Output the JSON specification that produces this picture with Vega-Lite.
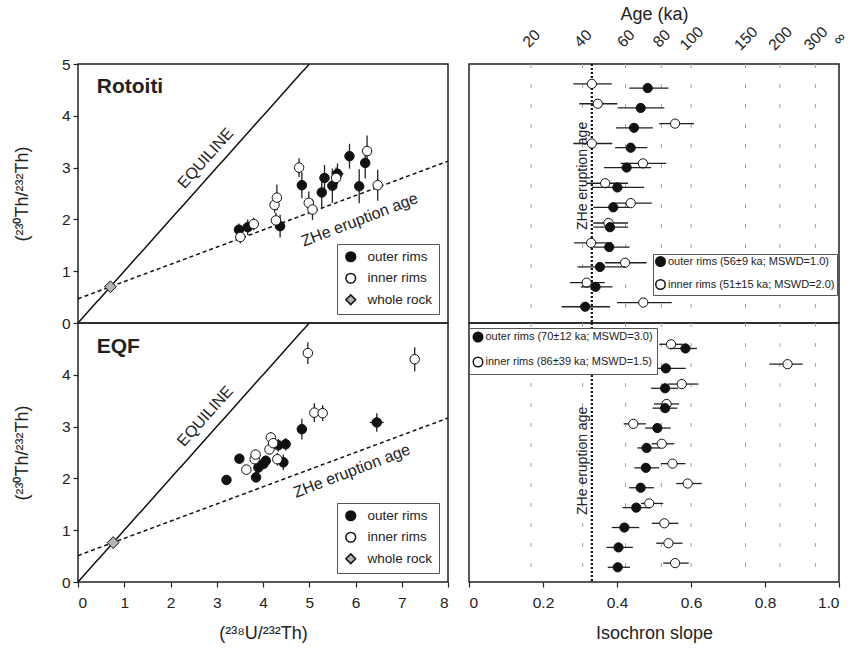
{
  "$schema": "https://vega.github.io/schema/vega-lite/v6.json",
  "background": "white",
  "padding": {"left": 12, "top": 5, "right": 0, "bottom": 0},
  "columns": 2,
  "spacing": {"row": 0, "column": 21},
  "bounds": "flush",
  "config": {
    "font": "Liberation Sans",
    "view": {"stroke": "#222", "strokeWidth": 1.5},
    "axis": {"labelFont": "Liberation Sans", "labelFontSize": 15.5, "labelColor": "#222", "titleFont": "Liberation Sans", "titleFontSize": 18, "titleFontWeight": "normal", "titleColor": "#222", "domain": false, "grid": false, "tickColor": "#222", "tickSize": 5, "tickWidth": 1.2, "labelPadding": 3, "labelOverlap": false},
    "legend": {"labelFont": "Liberation Sans", "labelColor": "#222", "labelLimit": 400},
    "text": {"font": "Liberation Sans", "color": "#222"}
  },
  "resolve": {
    "scale": {"fill": "independent", "shape": "independent", "strokeDash": "independent"},
    "legend": {"fill": "independent", "shape": "independent"}
  },
  "datasets": {
    "rotLines": [
      {"line": "equiline", "x": 0, "y": 0, "x2": 5, "y2": 5},
      {"line": "zhe", "x": 0, "y": 0.468, "x2": 8, "y2": 3.124}
    ],
    "eqfLines": [
      {"line": "equiline", "x": 0, "y": 0, "x2": 5, "y2": 5},
      {"line": "zhe", "x": 0, "y": 0.51, "x2": 8, "y2": 3.166}
    ],
    "rot": [
      {"series": "outer rims", "x": 3.48, "y": 1.80, "xlo": 3.40, "xhi": 3.56, "ylo": 1.68, "yhi": 1.92},
      {"series": "outer rims", "x": 3.67, "y": 1.85, "xlo": 3.59, "xhi": 3.75, "ylo": 1.70, "yhi": 2.00},
      {"series": "outer rims", "x": 4.37, "y": 1.87, "xlo": 4.31, "xhi": 4.43, "ylo": 1.65, "yhi": 2.09},
      {"series": "outer rims", "x": 4.84, "y": 2.66, "xlo": 4.76, "xhi": 4.92, "ylo": 2.41, "yhi": 2.91},
      {"series": "outer rims", "x": 5.27, "y": 2.52, "xlo": 5.17, "xhi": 5.37, "ylo": 2.22, "yhi": 2.82},
      {"series": "outer rims", "x": 5.33, "y": 2.80, "xlo": 5.23, "xhi": 5.43, "ylo": 2.55, "yhi": 3.05},
      {"series": "outer rims", "x": 5.50, "y": 2.65, "xlo": 5.40, "xhi": 5.60, "ylo": 2.32, "yhi": 2.98},
      {"series": "outer rims", "x": 5.61, "y": 2.88, "xlo": 5.48, "xhi": 5.74, "ylo": 2.68, "yhi": 3.08},
      {"series": "outer rims", "x": 5.87, "y": 3.22, "xlo": 5.79, "xhi": 5.95, "ylo": 2.98, "yhi": 3.46},
      {"series": "outer rims", "x": 6.08, "y": 2.64, "xlo": 6.00, "xhi": 6.16, "ylo": 2.31, "yhi": 2.97},
      {"series": "outer rims", "x": 6.21, "y": 3.09, "xlo": 6.11, "xhi": 6.31, "ylo": 2.79, "yhi": 3.39},
      {"series": "inner rims", "x": 3.51, "y": 1.66, "xlo": 3.41, "xhi": 3.61, "ylo": 1.54, "yhi": 1.78},
      {"series": "inner rims", "x": 3.80, "y": 1.91, "xlo": 3.70, "xhi": 3.90, "ylo": 1.79, "yhi": 2.03},
      {"series": "inner rims", "x": 4.25, "y": 2.28, "xlo": 4.19, "xhi": 4.31, "ylo": 2.13, "yhi": 2.43},
      {"series": "inner rims", "x": 4.30, "y": 2.42, "xlo": 4.24, "xhi": 4.36, "ylo": 2.17, "yhi": 2.67},
      {"series": "inner rims", "x": 4.28, "y": 1.98, "xlo": 4.22, "xhi": 4.34, "ylo": 1.83, "yhi": 2.13},
      {"series": "inner rims", "x": 4.78, "y": 3.00, "xlo": 4.72, "xhi": 4.84, "ylo": 2.82, "yhi": 3.18},
      {"series": "inner rims", "x": 4.99, "y": 2.32, "xlo": 4.93, "xhi": 5.05, "ylo": 2.10, "yhi": 2.54},
      {"series": "inner rims", "x": 5.07, "y": 2.19, "xlo": 4.99, "xhi": 5.15, "ylo": 1.99, "yhi": 2.39},
      {"series": "inner rims", "x": 5.58, "y": 2.80, "xlo": 5.48, "xhi": 5.68, "ylo": 2.60, "yhi": 3.00},
      {"series": "inner rims", "x": 6.25, "y": 3.32, "xlo": 6.15, "xhi": 6.35, "ylo": 3.02, "yhi": 3.62},
      {"series": "inner rims", "x": 6.48, "y": 2.66, "xlo": 6.42, "xhi": 6.54, "ylo": 2.36, "yhi": 2.96},
      {"series": "whole rock", "x": 0.70, "y": 0.70, "xlo": 0.70, "xhi": 0.70, "ylo": 0.70, "yhi": 0.70}
    ],
    "eqf": [
      {"series": "outer rims", "x": 3.21, "y": 1.97, "xlo": 3.16, "xhi": 3.26, "ylo": 1.89, "yhi": 2.05},
      {"series": "outer rims", "x": 3.49, "y": 2.38, "xlo": 3.44, "xhi": 3.54, "ylo": 2.30, "yhi": 2.46},
      {"series": "outer rims", "x": 3.85, "y": 2.02, "xlo": 3.80, "xhi": 3.90, "ylo": 1.92, "yhi": 2.12},
      {"series": "outer rims", "x": 3.90, "y": 2.21, "xlo": 3.85, "xhi": 3.95, "ylo": 2.11, "yhi": 2.31},
      {"series": "outer rims", "x": 4.01, "y": 2.28, "xlo": 3.96, "xhi": 4.06, "ylo": 2.18, "yhi": 2.38},
      {"series": "outer rims", "x": 4.06, "y": 2.34, "xlo": 4.00, "xhi": 4.12, "ylo": 2.24, "yhi": 2.44},
      {"series": "outer rims", "x": 4.33, "y": 2.64, "xlo": 4.25, "xhi": 4.41, "ylo": 2.52, "yhi": 2.76},
      {"series": "outer rims", "x": 4.44, "y": 2.31, "xlo": 4.39, "xhi": 4.49, "ylo": 2.16, "yhi": 2.46},
      {"series": "outer rims", "x": 4.49, "y": 2.66, "xlo": 4.41, "xhi": 4.57, "ylo": 2.54, "yhi": 2.78},
      {"series": "outer rims", "x": 4.84, "y": 2.95, "xlo": 4.74, "xhi": 4.94, "ylo": 2.75, "yhi": 3.15},
      {"series": "outer rims", "x": 6.46, "y": 3.08, "xlo": 6.31, "xhi": 6.61, "ylo": 2.90, "yhi": 3.26},
      {"series": "inner rims", "x": 3.64, "y": 2.17, "xlo": 3.59, "xhi": 3.69, "ylo": 2.09, "yhi": 2.25},
      {"series": "inner rims", "x": 3.82, "y": 2.37, "xlo": 3.77, "xhi": 3.87, "ylo": 2.29, "yhi": 2.45},
      {"series": "inner rims", "x": 3.84, "y": 2.46, "xlo": 3.79, "xhi": 3.89, "ylo": 2.36, "yhi": 2.56},
      {"series": "inner rims", "x": 4.14, "y": 2.56, "xlo": 4.09, "xhi": 4.19, "ylo": 2.46, "yhi": 2.66},
      {"series": "inner rims", "x": 4.17, "y": 2.79, "xlo": 4.12, "xhi": 4.22, "ylo": 2.69, "yhi": 2.89},
      {"series": "inner rims", "x": 4.22, "y": 2.68, "xlo": 4.17, "xhi": 4.27, "ylo": 2.58, "yhi": 2.78},
      {"series": "inner rims", "x": 4.31, "y": 2.37, "xlo": 4.26, "xhi": 4.36, "ylo": 2.25, "yhi": 2.49},
      {"series": "inner rims", "x": 4.97, "y": 4.42, "xlo": 4.93, "xhi": 5.01, "ylo": 4.21, "yhi": 4.63},
      {"series": "inner rims", "x": 5.11, "y": 3.27, "xlo": 5.06, "xhi": 5.16, "ylo": 3.09, "yhi": 3.45},
      {"series": "inner rims", "x": 5.29, "y": 3.26, "xlo": 5.24, "xhi": 5.34, "ylo": 3.11, "yhi": 3.41},
      {"series": "inner rims", "x": 7.28, "y": 4.30, "xlo": 7.24, "xhi": 7.32, "ylo": 4.07, "yhi": 4.53},
      {"series": "whole rock", "x": 0.76, "y": 0.76, "xlo": 0.76, "xhi": 0.76, "ylo": 0.76, "yhi": 0.76}
    ],
    "rotNotes": [
      {"kind": "site", "text": "Rotoiti", "x": 0.405, "y": 4.44},
      {"kind": "equi", "text": "EQUILINE", "x": 2.76, "y": 3.18},
      {"kind": "zhe", "text": "ZHe eruption age", "x": 6.09, "y": 1.99}
    ],
    "eqfNotes": [
      {"kind": "site", "text": "EQF", "x": 0.405, "y": 4.42},
      {"kind": "equi", "text": "EQUILINE", "x": 2.75, "y": 3.20},
      {"kind": "zhe", "text": "ZHe eruption age", "x": 5.92, "y": 2.14}
    ],
    "ages": [
      {"age": 20, "s": 0.16757},
      {"age": 40, "s": 0.30705},
      {"age": 60, "s": 0.42318},
      {"age": 80, "s": 0.51984},
      {"age": 100, "s": 0.60030},
      {"age": 150, "s": 0.74730},
      {"age": 200, "s": 0.84024},
      {"age": 300, "s": 0.93615}
    ],
    "zheSlope": [{"s": 0.332}],
    "trNote": [{"text": "ZHe eruption age", "s": 0.307, "grain": 5.63}],
    "brNote": [{"text": "ZHe eruption age", "s": 0.307, "grain": 6.86}],
    "tr": [
      {"grain": 1, "rim": "inner", "label": "inner rims (51±15 ka; MSWD=2.0)", "s": 0.332, "lo": 0.282, "hi": 0.386},
      {"grain": 1, "rim": "outer", "label": "outer rims (56±9 ka; MSWD=1.0)", "s": 0.483, "lo": 0.433, "hi": 0.539},
      {"grain": 2, "rim": "inner", "label": "inner rims (51±15 ka; MSWD=2.0)", "s": 0.348, "lo": 0.298, "hi": 0.401},
      {"grain": 2, "rim": "outer", "label": "outer rims (56±9 ka; MSWD=1.0)", "s": 0.464, "lo": 0.402, "hi": 0.528},
      {"grain": 3, "rim": "inner", "label": "inner rims (51±15 ka; MSWD=2.0)", "s": 0.557, "lo": 0.514, "hi": 0.608},
      {"grain": 3, "rim": "outer", "label": "outer rims (56±9 ka; MSWD=1.0)", "s": 0.446, "lo": 0.397, "hi": 0.497},
      {"grain": 4, "rim": "inner", "label": "inner rims (51±15 ka; MSWD=2.0)", "s": 0.332, "lo": 0.282, "hi": 0.387},
      {"grain": 4, "rim": "outer", "label": "outer rims (56±9 ka; MSWD=1.0)", "s": 0.437, "lo": 0.395, "hi": 0.482},
      {"grain": 5, "rim": "inner", "label": "inner rims (51±15 ka; MSWD=2.0)", "s": 0.470, "lo": 0.410, "hi": 0.533},
      {"grain": 5, "rim": "outer", "label": "outer rims (56±9 ka; MSWD=1.0)", "s": 0.426, "lo": 0.365, "hi": 0.492},
      {"grain": 6, "rim": "inner", "label": "inner rims (51±15 ka; MSWD=2.0)", "s": 0.368, "lo": 0.318, "hi": 0.430},
      {"grain": 6, "rim": "outer", "label": "outer rims (56±9 ka; MSWD=1.0)", "s": 0.401, "lo": 0.332, "hi": 0.473},
      {"grain": 7, "rim": "inner", "label": "inner rims (51±15 ka; MSWD=2.0)", "s": 0.437, "lo": 0.386, "hi": 0.494},
      {"grain": 7, "rim": "outer", "label": "outer rims (56±9 ka; MSWD=1.0)", "s": 0.390, "lo": 0.336, "hi": 0.435},
      {"grain": 8, "rim": "inner", "label": "inner rims (51±15 ka; MSWD=2.0)", "s": 0.377, "lo": 0.336, "hi": 0.430},
      {"grain": 8, "rim": "outer", "label": "outer rims (56±9 ka; MSWD=1.0)", "s": 0.381, "lo": 0.336, "hi": 0.430},
      {"grain": 9, "rim": "inner", "label": "inner rims (51±15 ka; MSWD=2.0)", "s": 0.330, "lo": 0.284, "hi": 0.385},
      {"grain": 9, "rim": "outer", "label": "outer rims (56±9 ka; MSWD=1.0)", "s": 0.379, "lo": 0.336, "hi": 0.434},
      {"grain": 10, "rim": "inner", "label": "inner rims (51±15 ka; MSWD=2.0)", "s": 0.422, "lo": 0.368, "hi": 0.480},
      {"grain": 10, "rim": "outer", "label": "outer rims (56±9 ka; MSWD=1.0)", "s": 0.354, "lo": 0.293, "hi": 0.422},
      {"grain": 11, "rim": "inner", "label": "inner rims (51±15 ka; MSWD=2.0)", "s": 0.318, "lo": 0.273, "hi": 0.367},
      {"grain": 11, "rim": "outer", "label": "outer rims (56±9 ka; MSWD=1.0)", "s": 0.342, "lo": 0.302, "hi": 0.388},
      {"grain": 12, "rim": "inner", "label": "inner rims (51±15 ka; MSWD=2.0)", "s": 0.471, "lo": 0.400, "hi": 0.548},
      {"grain": 12, "rim": "outer", "label": "outer rims (56±9 ka; MSWD=1.0)", "s": 0.314, "lo": 0.250, "hi": 0.381}
    ],
    "br": [
      {"grain": 1, "rim": "inner", "label": "inner rims (86±39 ka; MSWD=1.5)", "s": 0.546, "lo": 0.514, "hi": 0.578},
      {"grain": 1, "rim": "outer", "label": "outer rims (70±12 ka; MSWD=3.0)", "s": 0.585, "lo": 0.543, "hi": 0.616},
      {"grain": 2, "rim": "inner", "label": "inner rims (86±39 ka; MSWD=1.5)", "s": 0.861, "lo": 0.812, "hi": 0.902},
      {"grain": 2, "rim": "outer", "label": "outer rims (70±12 ka; MSWD=3.0)", "s": 0.532, "lo": 0.480, "hi": 0.586},
      {"grain": 3, "rim": "inner", "label": "inner rims (86±39 ka; MSWD=1.5)", "s": 0.575, "lo": 0.538, "hi": 0.620},
      {"grain": 3, "rim": "outer", "label": "outer rims (70±12 ka; MSWD=3.0)", "s": 0.530, "lo": 0.492, "hi": 0.565},
      {"grain": 4, "rim": "inner", "label": "inner rims (86±39 ka; MSWD=1.5)", "s": 0.534, "lo": 0.500, "hi": 0.568},
      {"grain": 4, "rim": "outer", "label": "outer rims (70±12 ka; MSWD=3.0)", "s": 0.530, "lo": 0.496, "hi": 0.563},
      {"grain": 5, "rim": "inner", "label": "inner rims (86±39 ka; MSWD=1.5)", "s": 0.444, "lo": 0.418, "hi": 0.478},
      {"grain": 5, "rim": "outer", "label": "outer rims (70±12 ka; MSWD=3.0)", "s": 0.509, "lo": 0.476, "hi": 0.545},
      {"grain": 6, "rim": "inner", "label": "inner rims (86±39 ka; MSWD=1.5)", "s": 0.521, "lo": 0.494, "hi": 0.555},
      {"grain": 6, "rim": "outer", "label": "outer rims (70±12 ka; MSWD=3.0)", "s": 0.480, "lo": 0.455, "hi": 0.516},
      {"grain": 7, "rim": "inner", "label": "inner rims (86±39 ka; MSWD=1.5)", "s": 0.550, "lo": 0.519, "hi": 0.585},
      {"grain": 7, "rim": "outer", "label": "outer rims (70±12 ka; MSWD=3.0)", "s": 0.478, "lo": 0.447, "hi": 0.514},
      {"grain": 8, "rim": "inner", "label": "inner rims (86±39 ka; MSWD=1.5)", "s": 0.591, "lo": 0.560, "hi": 0.629},
      {"grain": 8, "rim": "outer", "label": "outer rims (70±12 ka; MSWD=3.0)", "s": 0.464, "lo": 0.433, "hi": 0.500},
      {"grain": 9, "rim": "inner", "label": "inner rims (86±39 ka; MSWD=1.5)", "s": 0.487, "lo": 0.465, "hi": 0.525},
      {"grain": 9, "rim": "outer", "label": "outer rims (70±12 ka; MSWD=3.0)", "s": 0.452, "lo": 0.415, "hi": 0.489},
      {"grain": 10, "rim": "inner", "label": "inner rims (86±39 ka; MSWD=1.5)", "s": 0.528, "lo": 0.494, "hi": 0.566},
      {"grain": 10, "rim": "outer", "label": "outer rims (70±12 ka; MSWD=3.0)", "s": 0.420, "lo": 0.386, "hi": 0.460},
      {"grain": 11, "rim": "inner", "label": "inner rims (86±39 ka; MSWD=1.5)", "s": 0.539, "lo": 0.506, "hi": 0.577},
      {"grain": 11, "rim": "outer", "label": "outer rims (70±12 ka; MSWD=3.0)", "s": 0.404, "lo": 0.372, "hi": 0.443},
      {"grain": 12, "rim": "inner", "label": "inner rims (86±39 ka; MSWD=1.5)", "s": 0.557, "lo": 0.525, "hi": 0.594},
      {"grain": 12, "rim": "outer", "label": "outer rims (70±12 ka; MSWD=3.0)", "s": 0.402, "lo": 0.375, "hi": 0.435}
    ]
  },
  "concat": [
    {
      "width": 370, "height": 259,
      "layer": [
        {"data": {"name": "rotLines"}, "mark": {"type": "rule", "color": "#111", "strokeWidth": 1.5},
         "encoding": {
           "x": {"field": "x", "type": "quantitative", "scale": {"domain": [0, 8], "nice": false}, "axis": null},
           "y": {"field": "y", "type": "quantitative", "scale": {"domain": [0, 5], "nice": false}, "axis": {"values": [0, 1, 2, 3, 4, 5], "title": "(²³⁰Th/²³²Th)", "titlePadding": 30}},
           "x2": {"field": "x2"}, "y2": {"field": "y2"},
           "strokeDash": {"field": "line", "type": "nominal", "scale": {"domain": ["equiline", "zhe"], "range": [[1, 0], [4, 3]]}, "legend": null}}},
        {"data": {"name": "rot"}, "mark": {"type": "rule", "color": "#222", "strokeWidth": 1.3},
         "encoding": {"x": {"field": "x", "type": "quantitative", "axis": null}, "y": {"field": "ylo", "type": "quantitative"}, "y2": {"field": "yhi"}}},
        {"data": {"name": "rot"}, "mark": {"type": "rule", "color": "#222", "strokeWidth": 1.3},
         "encoding": {"y": {"field": "y", "type": "quantitative"}, "x": {"field": "xlo", "type": "quantitative", "axis": null}, "x2": {"field": "xhi"}}},
        {"data": {"name": "rot"}, "transform": [{"filter": "datum.series != 'whole rock'"}], "mark": {"type": "point", "filled": true, "opacity": 1, "stroke": "#111", "strokeWidth": 1, "size": 90},
         "encoding": {
           "x": {"field": "x", "type": "quantitative", "axis": null},
           "y": {"field": "y", "type": "quantitative"},
           "fill": {"field": "series", "type": "nominal", "scale": {"domain": ["outer rims", "inner rims", "whole rock"], "range": ["#111", "white", "#b3b3b3"]},
                    "legend": {"title": null, "orient": "bottom-right", "offset": 9, "padding": 6, "strokeColor": "#555", "fillColor": "white", "labelFontSize": 13.5, "symbolSize": 95, "rowPadding": 4.5, "labelOffset": 10, "symbolOffset": 1, "encode": {"symbols": {"update": {"stroke": {"value": "#111"}, "strokeWidth": {"value": 1}}}}}},
           "shape": {"field": "series", "type": "nominal", "scale": {"domain": ["outer rims", "inner rims", "whole rock"], "range": ["circle", "circle", "diamond"]},
                    "legend": {"title": null, "orient": "bottom-right", "offset": 9, "padding": 6, "strokeColor": "#555", "fillColor": "white", "labelFontSize": 13.5, "symbolSize": 95, "rowPadding": 4.5, "labelOffset": 10, "symbolOffset": 1, "encode": {"symbols": {"update": {"stroke": {"value": "#111"}, "strokeWidth": {"value": 1}}}}}}}},
        {"data": {"name": "rot"}, "transform": [{"filter": "datum.series == 'whole rock'"}], "mark": {"type": "point", "filled": true, "opacity": 1, "stroke": "#111", "strokeWidth": 1, "size": 140},
         "encoding": {
           "x": {"field": "x", "type": "quantitative", "axis": null},
           "y": {"field": "y", "type": "quantitative"},
           "fill": {"field": "series", "type": "nominal", "scale": {"domain": ["outer rims", "inner rims", "whole rock"], "range": ["#111", "white", "#b3b3b3"]},
                    "legend": {"title": null, "orient": "bottom-right", "offset": 9, "padding": 6, "strokeColor": "#555", "fillColor": "white", "labelFontSize": 13.5, "symbolSize": 95, "rowPadding": 4.5, "labelOffset": 10, "symbolOffset": 1, "encode": {"symbols": {"update": {"stroke": {"value": "#111"}, "strokeWidth": {"value": 1}}}}}},
           "shape": {"field": "series", "type": "nominal", "scale": {"domain": ["outer rims", "inner rims", "whole rock"], "range": ["circle", "circle", "diamond"]},
                    "legend": {"title": null, "orient": "bottom-right", "offset": 9, "padding": 6, "strokeColor": "#555", "fillColor": "white", "labelFontSize": 13.5, "symbolSize": 95, "rowPadding": 4.5, "labelOffset": 10, "symbolOffset": 1, "encode": {"symbols": {"update": {"stroke": {"value": "#111"}, "strokeWidth": {"value": 1}}}}}}}},
        {"data": {"name": "rotNotes"}, "transform": [{"filter": "datum.kind == 'site'"}], "mark": {"type": "text", "fontSize": 21, "fontWeight": "bold", "align": "left", "baseline": "alphabetic"},
         "encoding": {"x": {"field": "x", "type": "quantitative", "axis": null}, "y": {"field": "y", "type": "quantitative"}, "text": {"field": "text"}}},
        {"data": {"name": "rotNotes"}, "transform": [{"filter": "datum.kind == 'equi'"}], "mark": {"type": "text", "fontSize": 16, "angle": 311.7, "align": "center", "baseline": "middle"},
         "encoding": {"x": {"field": "x", "type": "quantitative", "axis": null}, "y": {"field": "y", "type": "quantitative"}, "text": {"field": "text"}}},
        {"data": {"name": "rotNotes"}, "transform": [{"filter": "datum.kind == 'zhe'"}], "mark": {"type": "text", "fontSize": 16, "angle": 339, "align": "center", "baseline": "middle"},
         "encoding": {"x": {"field": "x", "type": "quantitative", "axis": null}, "y": {"field": "y", "type": "quantitative"}, "text": {"field": "text"}}}
      ]
    },
    {
      "width": 370, "height": 259,
      "layer": [
        {"data": {"name": "ages"}, "mark": {"type": "rule", "color": "#a0a0a0", "strokeWidth": 1, "strokeDash": [4, 16]},
         "encoding": {"x": {"field": "s", "type": "quantitative", "scale": {"domain": [0, 1], "nice": false},
           "axis": {"orient": "top", "values": [0.16757, 0.30705, 0.42318, 0.51984, 0.6003, 0.7473, 0.84024, 0.93615, 1.0],
                    "labelExpr": "datum.value >= 0.999 ? '∞' : format(round(-log(1 - datum.value) / 0.0091705), 'd')",
                    "labelAngle": -45, "labelAlign": "center", "labelBaseline": "middle", "labelOverlap": false, "ticks": false, "tickSize": 0, "labelPadding": 26, "title": "Age (ka)", "titlePadding": 0}}}},
        {"data": {"name": "zheSlope"}, "mark": {"type": "rule", "color": "#111", "strokeWidth": 2.2, "strokeDash": [2, 2]},
         "encoding": {"x": {"field": "s", "type": "quantitative"}}},
        {"data": {"name": "trNote"}, "mark": {"type": "text", "fontSize": 14, "angle": 270, "align": "center", "baseline": "middle"},
         "encoding": {"x": {"field": "s", "type": "quantitative"}, "y": {"field": "grain", "type": "quantitative", "scale": {"domain": [0, 13.03], "reverse": true, "nice": false, "zero": false}, "axis": null}, "text": {"field": "text"}}},
        {"data": {"name": "tr"}, "transform": [{"filter": "datum.rim == 'inner'"}], "mark": {"type": "rule", "color": "#222", "strokeWidth": 1.3},
         "encoding": {"x": {"field": "lo", "type": "quantitative"}, "x2": {"field": "hi"}, "y": {"field": "grain", "type": "quantitative", "axis": null}}},
        {"data": {"name": "tr"}, "transform": [{"filter": "datum.rim == 'inner'"}], "mark": {"type": "point", "shape": "circle", "filled": true, "opacity": 1, "stroke": "#111", "strokeWidth": 1, "size": 85},
         "encoding": {"x": {"field": "s", "type": "quantitative"}, "y": {"field": "grain", "type": "quantitative", "axis": null},
           "fill": {"field": "label", "type": "nominal", "scale": {"domain": ["outer rims (56±9 ka; MSWD=1.0)", "inner rims (51±15 ka; MSWD=2.0)"], "range": ["#111", "white"]},
                    "legend": {"title": null, "orient": "none", "legendX": 184, "legendY": 190, "symbolType": "circle", "padding": 2, "strokeColor": "#555", "fillColor": "white", "labelFontSize": 11, "symbolSize": 90, "rowPadding": 6, "labelOffset": 2, "encode": {"symbols": {"update": {"stroke": {"value": "#111"}, "strokeWidth": {"value": 1}}}}}}}},
        {"data": {"name": "tr"}, "transform": [{"filter": "datum.rim == 'outer'"}], "mark": {"type": "rule", "color": "#222", "strokeWidth": 1.3, "yOffset": 4.2},
         "encoding": {"x": {"field": "lo", "type": "quantitative"}, "x2": {"field": "hi"}, "y": {"field": "grain", "type": "quantitative", "axis": null}}},
        {"data": {"name": "tr"}, "transform": [{"filter": "datum.rim == 'outer'"}], "mark": {"type": "point", "shape": "circle", "filled": true, "opacity": 1, "stroke": "#111", "strokeWidth": 1, "size": 85, "yOffset": 4.2},
         "encoding": {"x": {"field": "s", "type": "quantitative"}, "y": {"field": "grain", "type": "quantitative", "axis": null},
           "fill": {"field": "label", "type": "nominal", "scale": {"domain": ["outer rims (56±9 ka; MSWD=1.0)", "inner rims (51±15 ka; MSWD=2.0)"], "range": ["#111", "white"]},
                    "legend": {"title": null, "orient": "none", "legendX": 184, "legendY": 190, "symbolType": "circle", "padding": 2, "strokeColor": "#555", "fillColor": "white", "labelFontSize": 11, "symbolSize": 90, "rowPadding": 6, "labelOffset": 2, "encode": {"symbols": {"update": {"stroke": {"value": "#111"}, "strokeWidth": {"value": 1}}}}}}}}
      ]
    },
    {
      "width": 370, "height": 259,
      "layer": [
        {"data": {"name": "eqfLines"}, "mark": {"type": "rule", "color": "#111", "strokeWidth": 1.5},
         "encoding": {
           "x": {"field": "x", "type": "quantitative", "scale": {"domain": [0, 8], "nice": false}, "axis": {"values": [0, 1, 2, 3, 4, 5, 6, 7, 8], "title": "(²³⁸U/²³²Th)", "labelPadding": 8, "titlePadding": 14}},
           "y": {"field": "y", "type": "quantitative", "scale": {"domain": [0, 5], "nice": false}, "axis": {"values": [0, 1, 2, 3, 4], "title": "(²³⁰Th/²³²Th)", "titlePadding": 30}},
           "x2": {"field": "x2"}, "y2": {"field": "y2"},
           "strokeDash": {"field": "line", "type": "nominal", "scale": {"domain": ["equiline", "zhe"], "range": [[1, 0], [4, 3]]}, "legend": null}}},
        {"data": {"name": "eqf"}, "mark": {"type": "rule", "color": "#222", "strokeWidth": 1.3},
         "encoding": {"x": {"field": "x", "type": "quantitative"}, "y": {"field": "ylo", "type": "quantitative"}, "y2": {"field": "yhi"}}},
        {"data": {"name": "eqf"}, "mark": {"type": "rule", "color": "#222", "strokeWidth": 1.3},
         "encoding": {"y": {"field": "y", "type": "quantitative"}, "x": {"field": "xlo", "type": "quantitative"}, "x2": {"field": "xhi"}}},
        {"data": {"name": "eqf"}, "transform": [{"filter": "datum.series != 'whole rock'"}], "mark": {"type": "point", "filled": true, "opacity": 1, "stroke": "#111", "strokeWidth": 1, "size": 90},
         "encoding": {
           "x": {"field": "x", "type": "quantitative"},
           "y": {"field": "y", "type": "quantitative"},
           "fill": {"field": "series", "type": "nominal", "scale": {"domain": ["outer rims", "inner rims", "whole rock"], "range": ["#111", "white", "#b3b3b3"]},
                    "legend": {"title": null, "orient": "bottom-right", "offset": 9, "padding": 6, "strokeColor": "#555", "fillColor": "white", "labelFontSize": 13.5, "symbolSize": 95, "rowPadding": 4.5, "labelOffset": 10, "symbolOffset": 1, "encode": {"symbols": {"update": {"stroke": {"value": "#111"}, "strokeWidth": {"value": 1}}}}}},
           "shape": {"field": "series", "type": "nominal", "scale": {"domain": ["outer rims", "inner rims", "whole rock"], "range": ["circle", "circle", "diamond"]},
                    "legend": {"title": null, "orient": "bottom-right", "offset": 9, "padding": 6, "strokeColor": "#555", "fillColor": "white", "labelFontSize": 13.5, "symbolSize": 95, "rowPadding": 4.5, "labelOffset": 10, "symbolOffset": 1, "encode": {"symbols": {"update": {"stroke": {"value": "#111"}, "strokeWidth": {"value": 1}}}}}}}},
        {"data": {"name": "eqf"}, "transform": [{"filter": "datum.series == 'whole rock'"}], "mark": {"type": "point", "filled": true, "opacity": 1, "stroke": "#111", "strokeWidth": 1, "size": 140},
         "encoding": {
           "x": {"field": "x", "type": "quantitative"},
           "y": {"field": "y", "type": "quantitative"},
           "fill": {"field": "series", "type": "nominal", "scale": {"domain": ["outer rims", "inner rims", "whole rock"], "range": ["#111", "white", "#b3b3b3"]},
                    "legend": {"title": null, "orient": "bottom-right", "offset": 9, "padding": 6, "strokeColor": "#555", "fillColor": "white", "labelFontSize": 13.5, "symbolSize": 95, "rowPadding": 4.5, "labelOffset": 10, "symbolOffset": 1, "encode": {"symbols": {"update": {"stroke": {"value": "#111"}, "strokeWidth": {"value": 1}}}}}},
           "shape": {"field": "series", "type": "nominal", "scale": {"domain": ["outer rims", "inner rims", "whole rock"], "range": ["circle", "circle", "diamond"]},
                    "legend": {"title": null, "orient": "bottom-right", "offset": 9, "padding": 6, "strokeColor": "#555", "fillColor": "white", "labelFontSize": 13.5, "symbolSize": 95, "rowPadding": 4.5, "labelOffset": 10, "symbolOffset": 1, "encode": {"symbols": {"update": {"stroke": {"value": "#111"}, "strokeWidth": {"value": 1}}}}}}}},
        {"data": {"name": "eqfNotes"}, "transform": [{"filter": "datum.kind == 'site'"}], "mark": {"type": "text", "fontSize": 21, "fontWeight": "bold", "align": "left", "baseline": "alphabetic"},
         "encoding": {"x": {"field": "x", "type": "quantitative"}, "y": {"field": "y", "type": "quantitative"}, "text": {"field": "text"}}},
        {"data": {"name": "eqfNotes"}, "transform": [{"filter": "datum.kind == 'equi'"}], "mark": {"type": "text", "fontSize": 16, "angle": 311.7, "align": "center", "baseline": "middle"},
         "encoding": {"x": {"field": "x", "type": "quantitative"}, "y": {"field": "y", "type": "quantitative"}, "text": {"field": "text"}}},
        {"data": {"name": "eqfNotes"}, "transform": [{"filter": "datum.kind == 'zhe'"}], "mark": {"type": "text", "fontSize": 16, "angle": 339, "align": "center", "baseline": "middle"},
         "encoding": {"x": {"field": "x", "type": "quantitative"}, "y": {"field": "y", "type": "quantitative"}, "text": {"field": "text"}}}
      ]
    },
    {
      "width": 370, "height": 259,
      "layer": [
        {"data": {"name": "ages"}, "mark": {"type": "rule", "color": "#a0a0a0", "strokeWidth": 1, "strokeDash": [4, 16]},
         "encoding": {"x": {"field": "s", "type": "quantitative", "scale": {"domain": [0, 1], "nice": false},
           "axis": {"values": [0, 0.2, 0.4, 0.6, 0.8, 1.0], "labelExpr": "datum.value == 0 ? '0' : format(datum.value, '.1f')", "title": "Isochron slope", "labelPadding": 8, "titlePadding": 14}}}},
        {"data": {"name": "zheSlope"}, "mark": {"type": "rule", "color": "#111", "strokeWidth": 2.2, "strokeDash": [2, 2]},
         "encoding": {"x": {"field": "s", "type": "quantitative"}}},
        {"data": {"name": "brNote"}, "mark": {"type": "text", "fontSize": 14, "angle": 270, "align": "center", "baseline": "middle"},
         "encoding": {"x": {"field": "s", "type": "quantitative"}, "y": {"field": "grain", "type": "quantitative", "scale": {"domain": [-0.07, 12.95], "reverse": true, "nice": false, "zero": false}, "axis": null}, "text": {"field": "text"}}},
        {"data": {"name": "br"}, "transform": [{"filter": "datum.rim == 'inner'"}], "mark": {"type": "rule", "color": "#222", "strokeWidth": 1.3},
         "encoding": {"x": {"field": "lo", "type": "quantitative"}, "x2": {"field": "hi"}, "y": {"field": "grain", "type": "quantitative", "axis": null}}},
        {"data": {"name": "br"}, "transform": [{"filter": "datum.rim == 'inner'"}], "mark": {"type": "point", "shape": "circle", "filled": true, "opacity": 1, "stroke": "#111", "strokeWidth": 1, "size": 85},
         "encoding": {"x": {"field": "s", "type": "quantitative"}, "y": {"field": "grain", "type": "quantitative", "axis": null},
           "fill": {"field": "label", "type": "nominal", "scale": {"domain": ["outer rims (70±12 ka; MSWD=3.0)", "inner rims (86±39 ka; MSWD=1.5)"], "range": ["#111", "white"]},
                    "legend": {"title": null, "orient": "none", "legendX": 0, "legendY": 5, "symbolType": "circle", "padding": 3.5, "strokeColor": "#555", "fillColor": "white", "labelFontSize": 11, "symbolSize": 90, "rowPadding": 8, "labelOffset": 2, "encode": {"symbols": {"update": {"stroke": {"value": "#111"}, "strokeWidth": {"value": 1}}}}}}}},
        {"data": {"name": "br"}, "transform": [{"filter": "datum.rim == 'outer'"}], "mark": {"type": "rule", "color": "#222", "strokeWidth": 1.3, "yOffset": 4.2},
         "encoding": {"x": {"field": "lo", "type": "quantitative"}, "x2": {"field": "hi"}, "y": {"field": "grain", "type": "quantitative", "axis": null}}},
        {"data": {"name": "br"}, "transform": [{"filter": "datum.rim == 'outer'"}], "mark": {"type": "point", "shape": "circle", "filled": true, "opacity": 1, "stroke": "#111", "strokeWidth": 1, "size": 85, "yOffset": 4.2},
         "encoding": {"x": {"field": "s", "type": "quantitative"}, "y": {"field": "grain", "type": "quantitative", "axis": null},
           "fill": {"field": "label", "type": "nominal", "scale": {"domain": ["outer rims (70±12 ka; MSWD=3.0)", "inner rims (86±39 ka; MSWD=1.5)"], "range": ["#111", "white"]},
                    "legend": {"title": null, "orient": "none", "legendX": 0, "legendY": 5, "symbolType": "circle", "padding": 3.5, "strokeColor": "#555", "fillColor": "white", "labelFontSize": 11, "symbolSize": 90, "rowPadding": 8, "labelOffset": 2, "encode": {"symbols": {"update": {"stroke": {"value": "#111"}, "strokeWidth": {"value": 1}}}}}}}}
      ]
    }
  ]
}
